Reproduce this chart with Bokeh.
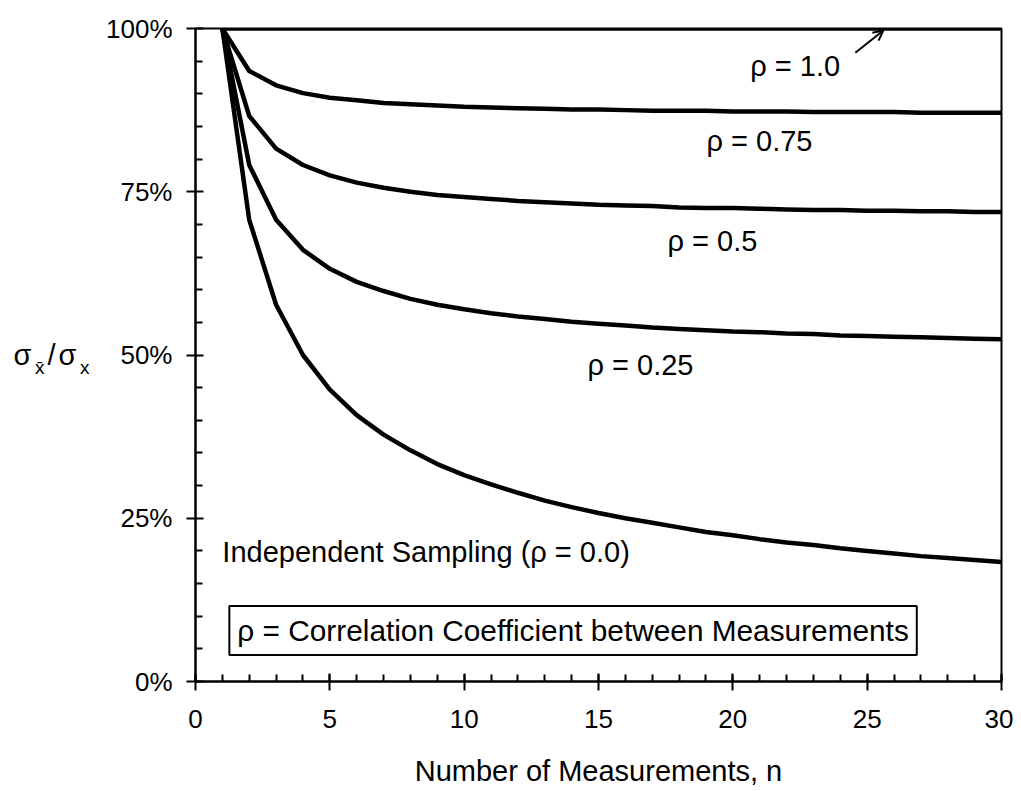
from bokeh.plotting import figure
from bokeh.models import (Label, Arrow, OpenHead, FixedTicker, NumeralTickFormatter,
                          Range1d, LinearAxis)
from bokeh.embed import file_html
from bokeh.resources import INLINE

# ---------------- data ----------------
n_values = [1, 2, 3, 4, 5, 6, 7, 8, 9, 10, 11, 12, 13, 14, 15,
            16, 17, 18, 19, 20, 21, 22, 23, 24, 25, 26, 27, 28, 29, 30]
rho_100 = [1.0, 1.0, 1.0, 1.0, 1.0, 1.0, 1.0, 1.0, 1.0, 1.0, 1.0, 1.0, 1.0, 1.0, 1.0,
           1.0, 1.0, 1.0, 1.0, 1.0, 1.0, 1.0, 1.0, 1.0, 1.0, 1.0, 1.0, 1.0, 1.0, 1.0]
rho_075 = [1.000, 0.935, 0.913, 0.901, 0.894, 0.890, 0.886, 0.884, 0.882, 0.880,
           0.879, 0.878, 0.877, 0.876, 0.876, 0.875, 0.874, 0.874, 0.874, 0.873,
           0.873, 0.873, 0.872, 0.872, 0.872, 0.872, 0.871, 0.871, 0.871, 0.871]
rho_050 = [1.000, 0.866, 0.816, 0.791, 0.775, 0.764, 0.756, 0.750, 0.745, 0.742,
           0.739, 0.736, 0.734, 0.732, 0.730, 0.729, 0.728, 0.726, 0.725, 0.725,
           0.724, 0.723, 0.722, 0.722, 0.721, 0.721, 0.720, 0.720, 0.719, 0.719]
rho_025 = [1.000, 0.791, 0.707, 0.661, 0.632, 0.612, 0.598, 0.586, 0.577, 0.570,
           0.564, 0.559, 0.555, 0.551, 0.548, 0.545, 0.542, 0.540, 0.538, 0.536,
           0.535, 0.533, 0.532, 0.530, 0.529, 0.528, 0.527, 0.526, 0.525, 0.524]
rho_000 = [1.000, 0.707, 0.577, 0.500, 0.447, 0.408, 0.378, 0.354, 0.333, 0.316,
           0.302, 0.289, 0.277, 0.267, 0.258, 0.250, 0.243, 0.236, 0.229, 0.224,
           0.218, 0.213, 0.209, 0.204, 0.200, 0.196, 0.192, 0.189, 0.186, 0.183]

x_major_ticks = [0, 5, 10, 15, 20, 25, 30]
x_minor_ticks = list(range(0, 31))
y_major_ticks = [0.0, 0.25, 0.5, 0.75, 1.0]
y_minor_ticks = [0.05, 0.10, 0.15, 0.20, 0.30, 0.35, 0.40, 0.45,
                 0.55, 0.60, 0.65, 0.70, 0.80, 0.85, 0.90, 0.95]

series_labels = ["ρ = 1.0", "ρ = 0.75", "ρ = 0.5", "ρ = 0.25",
                 "Independent Sampling (ρ = 0.0)"]
box_text = "ρ = Correlation Coefficient between Measurements"
x_title = "Number of Measurements, n"
# y title  σ_x̄ / σ_x  written as pieces, from the axis outward
# (subscripts get an empty first line so that they sit lower)
y_title_parts = ["\u00a0\nx", "σ", "/", "\u00a0\nx\u0304", "σ"]

# ---------------- figure ----------------
FONT = "Liberation Sans"
FS = "29px"
TICK_FS = "26px"

p = figure(width=1013, height=790, output_backend="svg", toolbar_location=None,
           x_range=Range1d(0, 30), y_range=Range1d(0, 1),
           min_border_left=195, min_border_right=12,
           min_border_top=28, min_border_bottom=109)
p.grid.visible = False
p.outline_line_color = "black"
p.outline_line_width = 2
p.background_fill_color = "white"
p.border_fill_color = "white"

for ys in [rho_100, rho_075, rho_050, rho_025, rho_000]:
    p.line(n_values, ys, line_color="black", line_width=4.5,
           line_join="round", line_cap="round")

# axes
p.xaxis.ticker = FixedTicker(ticks=x_major_ticks, minor_ticks=x_minor_ticks)
p.yaxis.ticker = FixedTicker(ticks=y_major_ticks, minor_ticks=y_minor_ticks)
p.yaxis.formatter = NumeralTickFormatter(format="0%")
for ax in (p.xaxis[0], p.yaxis[0]):
    ax.axis_line_width = 2
    ax.axis_line_color = "black"
    ax.major_tick_line_width = 2
    ax.minor_tick_line_width = 2
    ax.major_tick_line_color = "black"
    ax.minor_tick_line_color = "black"
    ax.major_tick_in = 8
    ax.major_tick_out = 9
    ax.minor_tick_in = 7
    ax.minor_tick_out = 0
    ax.major_label_text_font = FONT
    ax.major_label_text_font_size = TICK_FS
    ax.major_label_text_color = "black"
    ax.axis_label_text_font = FONT
    ax.axis_label_text_font_size = FS
    ax.axis_label_text_font_style = "normal"
    ax.axis_label_text_color = "black"
p.xaxis.major_label_standoff = 19
p.yaxis.major_label_standoff = 14

p.xaxis.axis_label = x_title
p.xaxis.axis_label_standoff = 24

# y title pieces as label-only axes stacked to the left of the main y axis
part_sizes = ["19px", "29px", "29px", "19px", "29px"]
part_standoffs = [14, 0, 0, 0, 0]
for txt, fs, so in zip(y_title_parts, part_sizes, part_standoffs):
    ax = LinearAxis(ticker=FixedTicker(ticks=[]), axis_label=txt,
                    axis_label_orientation="horizontal",
                    axis_label_standoff=so,
                    axis_label_text_font=FONT, axis_label_text_font_size=fs,
                    axis_label_text_font_style="normal",
                    axis_label_text_color="black",
                    axis_line_color=None, major_tick_line_color=None,
                    minor_tick_line_color=None, major_tick_out=0, major_tick_in=0,
                    minor_tick_out=0, minor_tick_in=0, major_label_standoff=0)
    p.add_layout(ax, "left")

# curve labels
label_pos = [(20.65, 0.942), (19.02, 0.828), (17.57, 0.675), (14.59, 0.484), (1.0, 0.198)]
for (lx, ly), txt in zip(label_pos, series_labels):
    p.add_layout(Label(x=lx, y=ly, text=txt, text_font=FONT, text_font_size=FS,
                       text_baseline="middle", text_align="left", text_color="black"))

p.add_layout(Arrow(end=OpenHead(size=10, line_width=2, line_color="black"),
                   x_start=24.56, y_start=0.963, x_end=25.6, y_end=0.997,
                   line_width=2, line_color="black"))

# boxed note
p.add_layout(Label(x=1.26, y=0.078, text=box_text, text_font=FONT, text_font_size="29.8px",
                   text_baseline="middle", text_align="left", text_color="black",
                   padding=8, border_line_color="black", border_line_width=2,
                   background_fill_color="white"))

open("out.html", "w").write(file_html(p, INLINE))
